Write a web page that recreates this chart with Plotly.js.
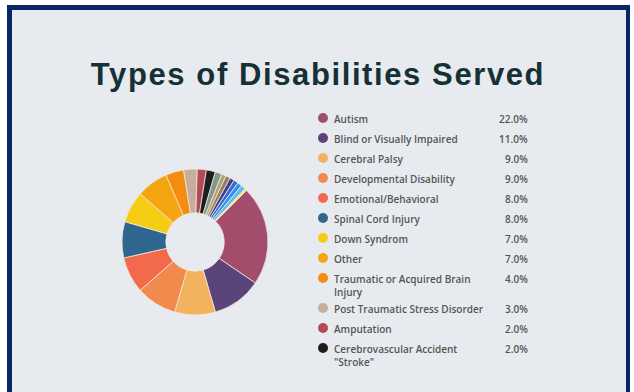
<!DOCTYPE html>
<html>
<head>
<meta charset="utf-8">
<script src="https://cdn.plot.ly/plotly-3.0.1.min.js"></script>
<style>
  html, body { margin: 0; padding: 0; background: #ffffff; }
  #chart { width: 634px; height: 392px; }
  .gtitle { letter-spacing: 1.6px; }
</style>
</head>
<body>
<div id="chart"></div>
<script>
// ---- data ----
const categories = [
  "Autism",
  "Blind or Visually Impaired",
  "Cerebral Palsy",
  "Developmental Disability",
  "Emotional/Behavioral",
  "Spinal Cord Injury",
  "Down Syndrom",
  "Other",
  "Traumatic or Acquired Brain Injury",
  "Post Traumatic Stress Disorder",
  "Amputation",
  "Cerebrovascular Accident \"Stroke\"",
  "Multiple Sclerosis",
  "Muscular Dystrophy",
  "Spina Bifida",
  "Deaf or Hard of Hearing",
  "Intellectual Disability",
  "Learning Disability",
  "Visual Impairment (Partial)",
  "Other Physical"
];
const shares = [22, 11, 9, 9, 8, 8, 7, 7, 4, 3, 2, 2, 1.5, 1, 1, 1, 1, 1, 1, 0.5];
const sliceColors = [
  "#a24d6c", "#5a4479", "#f3b35e", "#f18a4c", "#f26a4b", "#2f6690",
  "#f5cd14", "#f4a511", "#f48c10", "#c5ae9b", "#b14a57", "#1e1e1e",
  "#7e998d", "#b3a46c", "#8e7f60", "#3e3f8c", "#2e6cd6", "#2f90f4",
  "#5cbcf2", "#e4ef6e"
];
const legendCount = 12; // rows visible in the reference legend
const titleText = "Types of Disabilities Served";

// ---- helpers ----
const W = 634, H = 392;
const px = x => x / W;
const py = y => 1 - y / H;

function wrapLabel(s, maxChars) {
  if (s.length <= maxChars) return s;
  const words = s.split(" ");
  let line = "", lines = [];
  words.forEach(w => {
    if ((line + (line ? " " : "") + w).length > 27 && line) { lines.push(line); line = w; }
    else line = line ? line + " " + w : w;
  });
  lines.push(line);
  return lines.join("<br>");
}

// ---- pie ----
const cx = 195, cy = 242, r = 73;
const trace = {
  type: "pie",
  labels: categories,
  values: shares,
  sort: false,
  direction: "clockwise",
  rotation: 45,
  hole: 0.4,
  textinfo: "none",
  hoverinfo: "label+percent",
  showlegend: false,
  marker: { colors: sliceColors, line: { color: "#f6e4da", width: 0.8 } },
  domain: { x: [px(cx - r), px(cx + r)], y: [py(cy + r), py(cy - r)] }
};

// ---- background frame ----
const shapes = [
  { type: "rect", xref: "paper", yref: "paper", layer: "below",
    x0: px(7), x1: px(630), y0: -0.05, y1: py(5), fillcolor: "#0b2565", line: { width: 0 } },
  { type: "rect", xref: "paper", yref: "paper", layer: "below",
    x0: px(12), x1: px(626), y0: -0.05, y1: py(10), fillcolor: "#e7ebef", line: { width: 0 } }
];

// ---- custom legend ----
const annotations = [];
const legendFont = { family: "Open Sans, sans-serif", size: 10, weight: 600, color: "#555555" };
let rowY = 118;
const totalShare = shares.reduce((a, b) => a + b, 0);
for (let i = 0; i < legendCount; i++) {
  const lab = wrapLabel(categories[i], 31);
  const nLines = lab.split("<br>").length;
  shapes.push({
    type: "circle", xref: "paper", yref: "paper",
    x0: px(318), x1: px(328), y0: py(rowY + 5), y1: py(rowY - 5),
    fillcolor: sliceColors[i], line: { width: 0 }
  });
  annotations.push({
    xref: "paper", yref: "paper", x: px(332), y: py(rowY - 8),
    xanchor: "left", yanchor: "top", align: "left", showarrow: false,
    text: lab, font: legendFont
  });
  annotations.push({
    xref: "paper", yref: "paper", x: px(530), y: py(rowY - 8),
    xanchor: "right", yanchor: "top", align: "right", showarrow: false,
    text: (shares[i] / totalShare * 100).toFixed(1) + "%", font: legendFont
  });
  rowY += 20 + (nLines - 1) * 10;
}

const layout = {
  width: W, height: H,
  margin: { l: 0, r: 0, t: 0, b: 0 },
  paper_bgcolor: "#ffffff",
  title: {
    text: titleText,
    x: px(318), xanchor: "center",
    y: py(74), yanchor: "middle",
    font: { family: "Liberation Sans, Arial, sans-serif", size: 31, weight: 700, color: "#163136" }
  },
  shapes: shapes,
  annotations: annotations
};

Plotly.newPlot("chart", [trace], layout, { displayModeBar: false, staticPlot: true });
</script>
</body>
</html>
